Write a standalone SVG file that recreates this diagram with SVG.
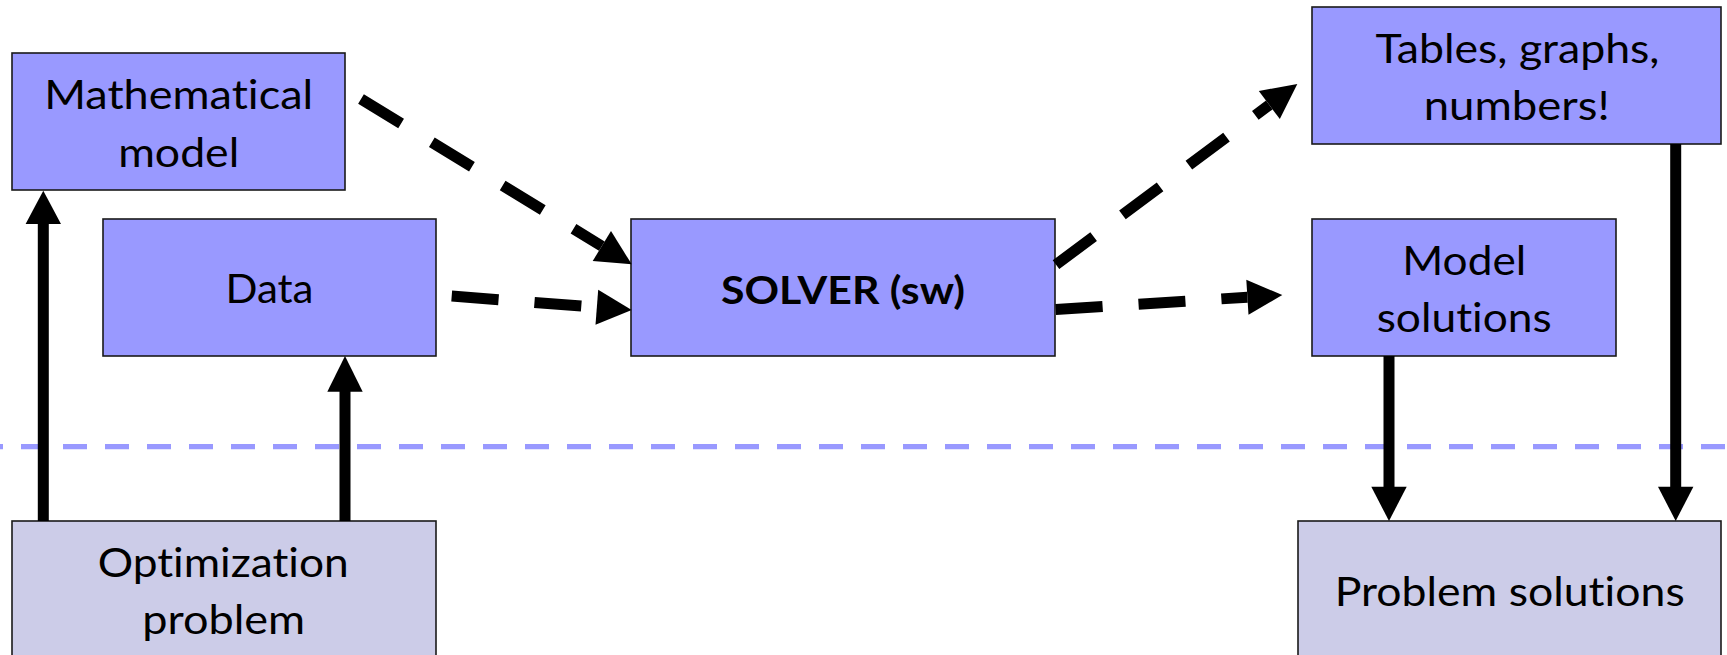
<svg xmlns="http://www.w3.org/2000/svg" width="1727" height="655" viewBox="0 0 1727 655">
  <style>
    .box-top { fill: #9999FF; stroke: #1a1a1a; stroke-width: 1.6; }
    .box-bottom { fill: #CCCCE8; stroke: #1a1a1a; stroke-width: 1.6; }
    .label { font-family: Lato, "Liberation Sans", sans-serif; font-size: 41px; fill: #000; text-anchor: middle; font-variant-ligatures: none; font-feature-settings: "liga" 0, "clig" 0; }
    .label-bold { font-family: Lato, "Liberation Sans", sans-serif; font-size: 39px; font-weight: bold; fill: #000; text-anchor: middle; font-variant-ligatures: none; }
    .solid { stroke: #000; stroke-width: 11; fill: none; }
    .dashed { stroke: #000; stroke-width: 11; fill: none; stroke-dasharray: 47 36; }
    .head { fill: #000; }
    .divider { stroke: #9999FF; stroke-width: 5.3; stroke-dasharray: 24 18; stroke-dashoffset: 21; }
  </style>

  <!-- separator between the model world and the problem world -->
  <line class="divider" x1="0" y1="446.7" x2="1727" y2="446.7"/>

  <g id="node-math-model">
    <rect class="box-top" x="12" y="53" width="333" height="137"/>
    <text class="label" x="178.7" y="109" textLength="269" lengthAdjust="spacingAndGlyphs">Mathematical</text>
    <text class="label" x="178.7" y="166.7" textLength="121" lengthAdjust="spacingAndGlyphs">model</text>
  </g>

  <g id="node-data">
    <rect class="box-top" x="103" y="219" width="333" height="137"/>
    <text class="label" x="269.5" y="303.3" textLength="88" lengthAdjust="spacingAndGlyphs">Data</text>
  </g>

  <g id="node-solver">
    <rect class="box-top" x="631" y="219" width="424" height="137"/>
    <text class="label-bold" x="843" y="304.3" textLength="244" lengthAdjust="spacingAndGlyphs">SOLVER (sw)</text>
  </g>

  <g id="node-tables">
    <rect class="box-top" x="1312" y="7" width="409" height="137"/>
    <text class="label" x="1517.5" y="63.3" textLength="284" lengthAdjust="spacingAndGlyphs">Tables, graphs,</text>
    <text class="label" x="1516.7" y="120.3" textLength="186" lengthAdjust="spacingAndGlyphs">numbers!</text>
  </g>

  <g id="node-model-solutions">
    <rect class="box-top" x="1312" y="219" width="304" height="137"/>
    <text class="label" x="1464.2" y="275" textLength="124" lengthAdjust="spacingAndGlyphs">Model</text>
    <text class="label" x="1464.2" y="331.7" textLength="175" lengthAdjust="spacingAndGlyphs">solutions</text>
  </g>

  <g id="node-optimization-problem">
    <rect class="box-bottom" x="12" y="521" width="424" height="145"/>
    <text class="label" x="223.2" y="576.7" textLength="251" lengthAdjust="spacingAndGlyphs">Optimization</text>
    <text class="label" x="223.7" y="634" textLength="163" lengthAdjust="spacingAndGlyphs">problem</text>
  </g>

  <g id="node-problem-solutions">
    <rect class="box-bottom" x="1298" y="521" width="423" height="145"/>
    <text class="label" x="1509.7" y="606" textLength="350" lengthAdjust="spacingAndGlyphs">Problem solutions</text>
  </g>

  <g id="connectors">
    <!-- optimization problem -> mathematical model -->
    <line class="solid" x1="43.3" y1="521" x2="43.3" y2="222"/>
    <polygon class="head" points="43.3,190.7 25.6,224 61,224"/>
    <!-- optimization problem -> data -->
    <line class="solid" x1="345" y1="521" x2="345" y2="390"/>
    <polygon class="head" points="345,356 327.3,391.7 362.7,391.7"/>

    <!-- mathematical model -> solver -->
    <line class="dashed" x1="361" y1="99" x2="601.8" y2="246.1"/>
    <polygon class="head" points="631.7,264.3 592.7,261 611,231.1"/>
    <!-- data -> solver -->
    <line class="dashed" x1="451.7" y1="296" x2="596.8" y2="307.3"/>
    <polygon class="head" points="631.7,310 595.5,324.7 598.2,289.8"/>

    <!-- solver -> tables, graphs, numbers -->
    <line class="dashed" x1="1056" y1="264.7" x2="1269.3" y2="105"/>
    <polygon class="head" points="1297.3,84 1279.8,119 1258.8,91"/>
    <!-- solver -> model solutions -->
    <line class="dashed" x1="1055.7" y1="309.5" x2="1247.4" y2="297.2"/>
    <polygon class="head" points="1282.3,295 1248.5,314.7 1246.3,279.8"/>

    <!-- model solutions -> problem solutions -->
    <line class="solid" x1="1389" y1="356" x2="1389" y2="488"/>
    <polygon class="head" points="1389,521 1371.3,486.7 1406.7,486.7"/>
    <!-- tables, graphs, numbers -> problem solutions -->
    <line class="solid" x1="1675.7" y1="144" x2="1675.7" y2="488"/>
    <polygon class="head" points="1675.7,521 1658,486.7 1693.4,486.7"/>
  </g>
</svg>
